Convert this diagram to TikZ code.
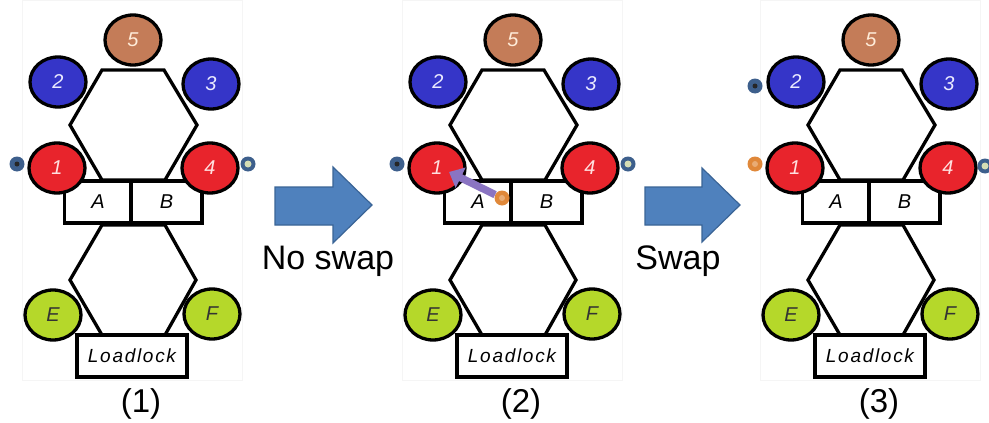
\documentclass[tikz,border=0pt]{standalone}
\usepackage{fontspec}
\setmainfont{Liberation Sans}
\usetikzlibrary{shapes.geometric,arrows.meta}

\definecolor{pmbrown}{HTML}{C47C58}
\definecolor{pmblue}{HTML}{3535C8}
\definecolor{pmred}{HTML}{E8242C}
\definecolor{pmgreen}{HTML}{B5D82A}
\definecolor{waferblue}{HTML}{3D5F8C}
\definecolor{waferring}{HTML}{D6DDB4}
\definecolor{waferorange}{HTML}{E0883A}
\definecolor{moveviolet}{HTML}{8A74C2}
\definecolor{stepfill}{HTML}{4F81BD}
\definecolor{stepedge}{HTML}{3A6496}

\newcommand\handfont{\fontsize{20}{20}\selectfont\itshape}
\newcommand\lockfont{\fontsize{19}{19}\selectfont\itshape\addfontfeature{LetterSpace=9}}

\tikzset{
  hexwall/.style={draw=black, fill=white, line width=3.3pt, line join=miter},
  panelframe/.style={draw=black!4, line width=0.8pt},
  chamber/.style={ellipse, draw=black, line width=3.3pt, minimum width=56pt,
    minimum height=50pt, inner sep=0pt, font=\handfont},
  lockbox/.style={rectangle, draw=black, fill=white, line width=3.3pt,
    minimum height=42pt, inner sep=0pt, font=\handfont},
  wafer/.style={circle, minimum size=15pt, inner sep=0pt},
  waferdark/.style={wafer, fill=waferblue,
    path picture={\fill[black!85] (path picture bounding box.center) circle (2.5pt);}},
  waferfresh/.style={wafer, fill=waferblue,
    path picture={\fill[waferring] (path picture bounding box.center) circle (3.5pt);}},
  waferswap/.style={wafer, fill=waferorange,
    path picture={\fill[waferorange!70!white] (path picture bounding box.center) circle (3pt);}},
  movearrow/.style={draw=moveviolet, line width=7.5pt,
    -{Triangle[width=22pt,length=13pt]}},
  blockarrow/.style={fill=stepfill, draw=stepedge, line width=1.2pt, line join=miter},
  steplabel/.style={font=\fontsize{34}{34}\selectfont, inner sep=0pt},
  caption/.style={font=\fontsize{33}{33}\selectfont, inner sep=0pt}
}

% one cluster tool: two transfer chambers, process modules, buffers A/B, load lock
\newcommand\toolpanel[3]{%
  \begin{scope}[xshift=#2pt, name prefix=#1]
    \draw[panelframe] (22,0) rectangle (242,380);
    \draw[hexwall] (102,70) -- (164,70) -- (197,125) -- (165,180) -- (102,180) -- (70,125) -- cycle;
    \draw[hexwall] (102,225) -- (165,225) -- (196,280) -- (165,335) -- (102,335) -- (70,280) -- cycle;
    \node[lockbox, minimum width=67pt] (A) at (98,202) {A};
    \node[lockbox, minimum width=71pt] (B) at (166.5,202) {B};
    \node[lockbox, minimum width=110pt, font=\lockfont] (LL) at (132,356) {Loadlock};
    \node[chamber, fill=pmbrown, text=orange!15] (c5) at (133,40) {5};
    \node[chamber, fill=pmblue, text=blue!8] (c2) at (58,82) {2};
    \node[chamber, fill=pmblue, text=blue!8] (c3) at (211,84) {3};
    \node[chamber, fill=pmred, text=red!12] (c1) at (57,168) {1};
    \node[chamber, fill=pmred, text=red!12] (c4) at (210,168) {4};
    \node[chamber, fill=pmgreen, text=black!80] (cE) at (53,315) {E};
    \node[chamber, fill=pmgreen, text=black!80] (cF) at (212,314) {F};
    \node[caption] (cap) at (141,404) {#3};
  \end{scope}}

\begin{document}
\begin{tikzpicture}[x=1pt, y=-1pt]
  \useasboundingbox (0,0) rectangle (989,423);
  \fill[white] (0,0) rectangle (989,423);

  \toolpanel{p1-}{0}{(1)}
  \toolpanel{p2-}{380}{(2)}
  \toolpanel{p3-}{738}{(3)}

  % wafers, panel 1
  \node[waferdark] (p1-w1) at (17,164) {};
  \node[waferfresh] (p1-w2) at (248,164) {};

  % wafers, panel 2: finished wafer in A heads to chamber 1
  \node[waferdark] (p2-w1) at (397,164) {};
  \node[waferfresh] (p2-w2) at (628,164) {};
  \node[waferswap] (p2-wo) at (502,198) {};
  \coordinate (p2-tip) at (449,172);
  \draw[movearrow] (p2-wo) -- (p2-tip);

  % wafers, panel 3
  \node[waferdark] (p3-w1) at (755,86) {};
  \node[waferswap] (p3-wo) at (755,164) {};
  \node[waferfresh] (p3-w2) at (985,166) {};

  % step arrows
  \draw[blockarrow] (275,187) -- (333,187) -- (333,167) -- (372,205) -- (333,243) -- (333,225) -- (275,225) -- cycle;
  \draw[blockarrow] (645,187) -- (702,187) -- (702,168) -- (740,205) -- (702,242) -- (702,225) -- (645,225) -- cycle;
  \node[steplabel, anchor=base] (noswap) at (328,269) {No swap};
  \node[steplabel, anchor=base] (swap) at (678,269) {Swap};
\end{tikzpicture}
\end{document}
